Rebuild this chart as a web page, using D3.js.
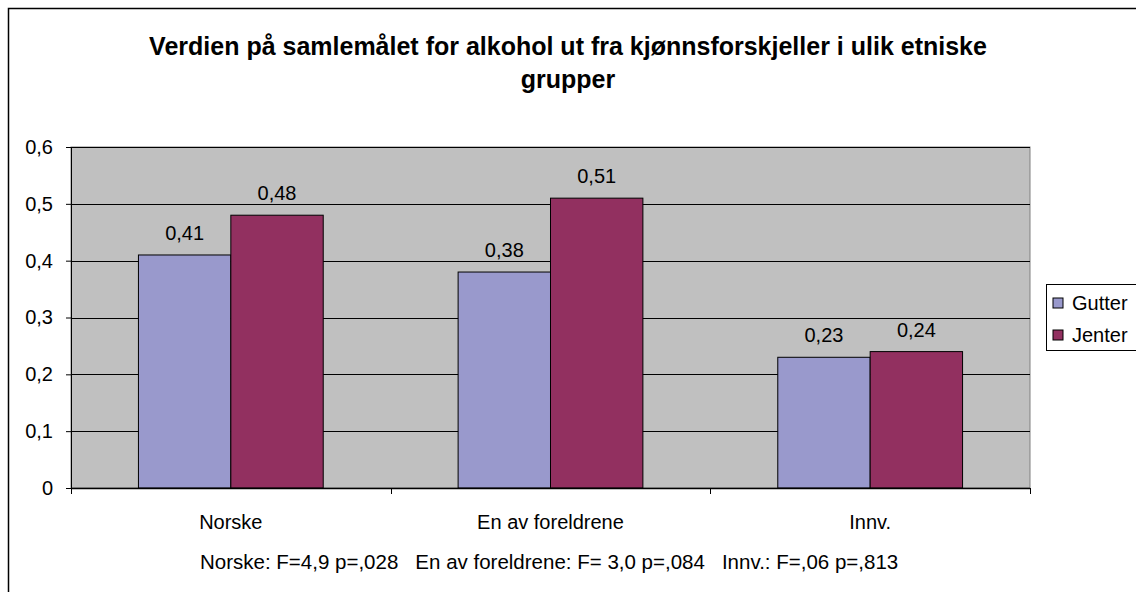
<!DOCTYPE html>
<html>
<head>
<meta charset="utf-8">
<script src="https://cdn.jsdelivr.net/npm/d3@7"></script>
<style>
  body { margin: 0; background: #fff; }
  svg { font-family: "Liberation Sans", Arial, sans-serif; }
</style>
</head>
<body>
<svg width="1136" height="592"></svg>
<script>
// data
var groups = ["Norske", "En av foreldrene", "Innv."];
var series = ["Gutter", "Jenter"];
var gutter = [0.41, 0.38, 0.23];
var jenter = [0.48, 0.51, 0.24];
var yTicks = [0, 0.1, 0.2, 0.3, 0.4, 0.5, 0.6];
var titleLines = ["Verdien på samlemålet for alkohol ut fra kjønnsforskjeller i ulik etniske", "grupper"];
var note = "Norske: F=4,9 p=,028   En av foreldrene: F= 3,0 p=,084   Innv.: F=,06 p=,813";
var colors = ["#9999cc", "#923060"];

var margin = {top: 147, left: 71};
var width = 959, height = 341;
var fs = "20px";
var fmt = function(v){ return String(v).replace(".", ","); };

var svg = d3.select("svg");

// outer frame
svg.append("rect")
  .attr("x", 8.5).attr("y", 8.5)
  .attr("width", 1140).attr("height", 600)
  .attr("fill", "#fff").attr("stroke", "#000").attr("stroke-width", 1.5);

// title
svg.append("g").selectAll("text")
  .data(titleLines).enter().append("text")
  .attr("x", 568).attr("y", function(d, i){ return 55 + i * 33; })
  .attr("text-anchor", "middle")
  .style("font-size", "25px").style("font-weight", "bold")
  .text(function(d){ return d; });

var g = svg.append("g")
  .attr("transform", "translate(" + margin.left + "," + margin.top + ")");

var x0 = d3.scaleBand().domain(groups).range([0, width]);
var x1 = d3.scaleBand().domain(series).range([0, x0.bandwidth()]).paddingInner(0).paddingOuter(0.73);
var y = d3.scaleLinear().domain([0, 0.6]).range([height, 0]);

// plot background
g.append("rect")
  .attr("width", width).attr("height", height)
  .attr("fill", "#c0c0c0").attr("stroke", "#808080");

// grid lines
g.selectAll(".grid")
  .data(yTicks.slice(1)).enter().append("line")
  .attr("x1", 0).attr("x2", width)
  .attr("y1", function(d){ return Math.round(y(d)) + 0.5; })
  .attr("y2", function(d){ return Math.round(y(d)) + 0.5; })
  .attr("stroke", "#000");

// y axis
var yAxis = g.append("g")
  .call(d3.axisLeft(y).tickValues(yTicks).tickFormat(fmt).tickSize(5).tickPadding(13));
yAxis.selectAll("text").style("font-size", fs).attr("fill", "#000");
yAxis.selectAll("line,path").attr("stroke", "#000");

// bars
var bars = g.selectAll(".grp")
  .data(groups).enter().append("g")
  .attr("transform", function(d){ return "translate(" + x0(d) + ",0)"; });

bars.selectAll("rect")
  .data(function(d, i){ return [{s: "Gutter", v: gutter[i]}, {s: "Jenter", v: jenter[i]}]; })
  .enter().append("rect")
  .attr("x", function(d){ return x1(d.s); })
  .attr("y", function(d){ return y(d.v); })
  .attr("width", x1.bandwidth())
  .attr("height", function(d){ return height - y(d.v); })
  .attr("fill", function(d, i){ return colors[i]; })
  .attr("stroke", "#000").attr("stroke-width", 1);

bars.selectAll("text")
  .data(function(d, i){ return [{s: "Gutter", v: gutter[i]}, {s: "Jenter", v: jenter[i]}]; })
  .enter().append("text")
  .attr("x", function(d){ return x1(d.s) + x1.bandwidth() / 2; })
  .attr("y", function(d){ return y(d.v) - 15; })
  .attr("text-anchor", "middle")
  .style("font-size", fs)
  .text(function(d){ return fmt(d.v); });

// x axis
g.append("line")
  .attr("x1", 0).attr("x2", width).attr("y1", height + 0.5).attr("y2", height + 0.5)
  .attr("stroke", "#000").attr("stroke-width", 1.5);
g.selectAll(".xtick")
  .data(d3.range(groups.length + 1)).enter().append("line")
  .attr("x1", function(d){ return Math.round(d * x0.bandwidth()) + 0.5; })
  .attr("x2", function(d){ return Math.round(d * x0.bandwidth()) + 0.5; })
  .attr("y1", height).attr("y2", height + 6)
  .attr("stroke", "#000");
g.selectAll(".xlab")
  .data(groups).enter().append("text")
  .attr("x", function(d){ return x0(d) + x0.bandwidth() / 2; })
  .attr("y", height + 41)
  .attr("text-anchor", "middle")
  .style("font-size", fs)
  .text(function(d){ return d; });

// note under the chart
svg.append("text")
  .attr("x", 200).attr("y", 569)
  .style("font-size", "20.5px")
  .style("white-space", "pre")
  .attr("xml:space", "preserve")
  .text(note);

// legend
var leg = svg.append("g").attr("transform", "translate(1046,284)");
leg.append("rect")
  .attr("x", 0.5).attr("y", 0.5).attr("width", 96).attr("height", 66)
  .attr("fill", "#fff").attr("stroke", "#000");
var li = leg.selectAll(".li").data(series).enter().append("g")
  .attr("transform", function(d, i){ return "translate(7," + (14 + i * 32) + ")"; });
li.append("rect")
  .attr("width", 10).attr("height", 10)
  .attr("fill", function(d, i){ return colors[i]; })
  .attr("stroke", "#000");
li.append("text")
  .attr("x", 19).attr("y", 12)
  .style("font-size", fs)
  .text(function(d){ return d; });
</script>
</body>
</html>
